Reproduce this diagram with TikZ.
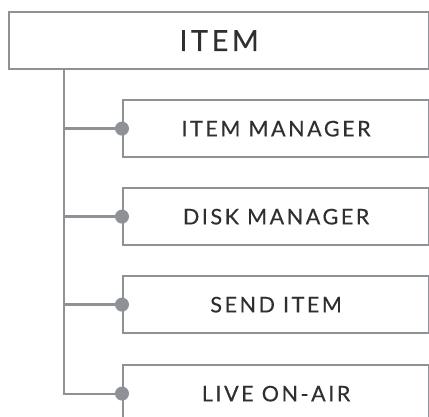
\documentclass[tikz,border=0pt]{standalone}
\usepackage{fontspec}
\newfontfamily\lblfont[LetterSpace=12,FakeBold=0.3]{Lato}
\begin{document}
\begin{tikzpicture}[x=1pt,y=-1pt,
  line/.style={draw=linegray, line width=2.2pt},
  boxstyle/.style={line, fill=white, rectangle, minimum height=57pt, inner sep=0pt, anchor=north west, text=textgray},
  bigtext/.style={font=\lblfont\fontsize{29}{30}\selectfont, text depth=-2pt},
  smalltext/.style={font=\lblfont\fontsize{21.5}{22}\selectfont, text depth=-2pt},
  dot/.style={fill=linegray}]
\definecolor{linegray}{HTML}{8E9196}
\definecolor{textgray}{HTML}{2E2F31}
\useasboundingbox (0,0) rectangle (429,417);
\node[boxstyle, minimum width=420pt, bigtext] (item) at (8,11) {ITEM};
\node[boxstyle, minimum width=306pt, smalltext] (c1) at (122,99) {ITEM MANAGER};
\node[boxstyle, minimum width=306pt, smalltext] (c2) at (122,187) {DISK MANAGER};
\node[boxstyle, minimum width=306pt, smalltext] (c3) at (122,275) {SEND ITEM};
\node[boxstyle, minimum width=306pt, smalltext] (c4) at (122,364) {LIVE ON-AIR};
\coordinate (tr) at (64,0);
\draw[line] (tr |- item.south) -- (tr |- c4.west) -- (c4.west);
\foreach \c in {c1,c2,c3}{\draw[line] (tr |- \c.west) -- (\c.west);}
\foreach \c in {c1,c2,c3,c4}{\fill[dot] (\c.west) circle (7pt);}
\end{tikzpicture}
\end{document}
